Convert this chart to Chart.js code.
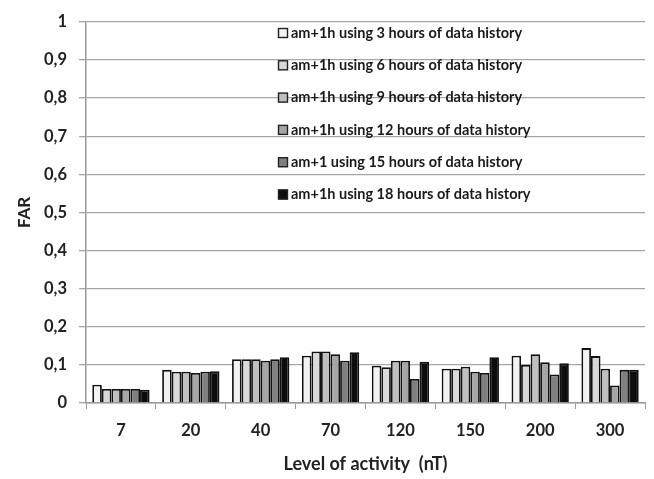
<!DOCTYPE html>
<html>
<head>
<meta charset="utf-8">
<script src="https://cdn.jsdelivr.net/npm/chart.js@4.4.1/dist/chart.umd.min.js"></script>
<style>
  html, body { margin: 0; padding: 0; background: #fff; }
  #wrap { width: 654px; height: 479px; }
</style>
</head>
<body>
<div id="wrap"><canvas id="farChart" width="654" height="479"></canvas></div>
<script>
// categories (level of activity, nT)
const levels = ['7', '20', '40', '70', '120', '150', '200', '300'];
const yTicks = [0, 0.1, 0.2, 0.3, 0.4, 0.5, 0.6, 0.7, 0.8, 0.9, 1];

// FAR values, one array per history length
const far3h  = [0.048, 0.087, 0.115, 0.124, 0.098, 0.090, 0.124, 0.144];
const far6h  = [0.037, 0.082, 0.115, 0.135, 0.094, 0.090, 0.100, 0.123];
const far9h  = [0.037, 0.082, 0.115, 0.135, 0.111, 0.095, 0.128, 0.090];
const far12h = [0.037, 0.079, 0.111, 0.128, 0.111, 0.082, 0.107, 0.046];
const far15h = [0.037, 0.082, 0.115, 0.111, 0.063, 0.079, 0.075, 0.087];
const far18h = [0.035, 0.083, 0.120, 0.133, 0.108, 0.120, 0.104, 0.087];

const seriesNames = [
    'am+1h using 3 hours of data history',
    'am+1h using 6 hours of data history',
    'am+1h using 9 hours of data history',
    'am+1h using 12 hours of data history',
    'am+1 using 15 hours of data history',
    'am+1h using 18 hours of data history'
];
const fills = ['#f2f2f2', '#d9d9d9', '#bfbfbf', '#a6a6a6', '#808080', '#0d0d0d'];

const FONT = 'Lato, "Open Sans", sans-serif';

// legend sits inside the plot, drawn on top of the grid lines
const insideLegend = {
    id: 'insideLegend',
    afterDatasetsDraw(chart) {
        const ctx = chart.ctx;
        ctx.save();
        ctx.font = 'bold 14.5px ' + FONT;
        ctx.textBaseline = 'middle';
        chart.data.datasets.forEach((ds, i) => {
            const y = 33 + i * 32.3;
            ctx.fillStyle = ds.backgroundColor;
            ctx.fillRect(278, y - 5, 10, 10);
            ctx.strokeStyle = '#222';
            ctx.lineWidth = 1.4;
            ctx.strokeRect(278.5, y - 4.5, 9, 9);
            ctx.fillStyle = '#1a1a1a';
            ctx.fillText(ds.label, 291, y);
        });
        ctx.restore();
    }
};

const ctx = document.getElementById('farChart').getContext('2d');
new Chart(ctx, {
    type: 'bar',
    data: {
        labels: levels,
        datasets: [far3h, far6h, far9h, far12h, far15h, far18h].map((vals, i) => ({
            label: seriesNames[i],
            data: vals,
            backgroundColor: fills[i],
            borderColor: '#111',
            borderWidth: 1.8,
            borderSkipped: 'bottom',
            categoryPercentage: 0.82,
            barPercentage: 1.0
        }))
    },
    plugins: [insideLegend],
    options: {
        responsive: false,
        animation: false,
        layout: { padding: { left: 0, right: 9, top: 18, bottom: 0 } },
        plugins: {
            legend: { display: false },
            tooltip: { enabled: false }
        },
        scales: {
            x: {
                grid: { offset: true, drawOnChartArea: false, color: '#999', tickLength: 6 },
                border: { color: '#999', width: 1.5 },
                ticks: { color: '#222', padding: 12, font: { family: FONT, size: 16.5, weight: 'bold' } },
                title: {
                    display: true,
                    text: 'Level of activity  (nT)',
                    color: '#222',
                    padding: { top: 6 },
                    font: { family: FONT, size: 18, weight: 'bold' }
                },
                afterFit(scale) { scale.height = 76; }
            },
            y: {
                min: 0,
                max: 1,
                afterBuildTicks(scale) { scale.ticks = yTicks.map(v => ({ value: v })); },
                grid: { color: '#a6a6a6', lineWidth: 1.3, tickLength: 7 },
                border: { color: '#999', width: 1.5 },
                ticks: {
                    color: '#222',
                    padding: 12,
                    font: { family: FONT, size: 16.5, weight: 'bold' },
                    callback: v => String(Math.round(v * 10) / 10).replace('.', ',')
                },
                title: {
                    display: true,
                    text: 'FAR',
                    color: '#222',
                    padding: { top: 14, bottom: 0 },
                    font: { family: FONT, size: 17, weight: 'bold' }
                },
                afterFit(scale) { scale.width = 86; }
            }
        }
    }
});
</script>
</body>
</html>
